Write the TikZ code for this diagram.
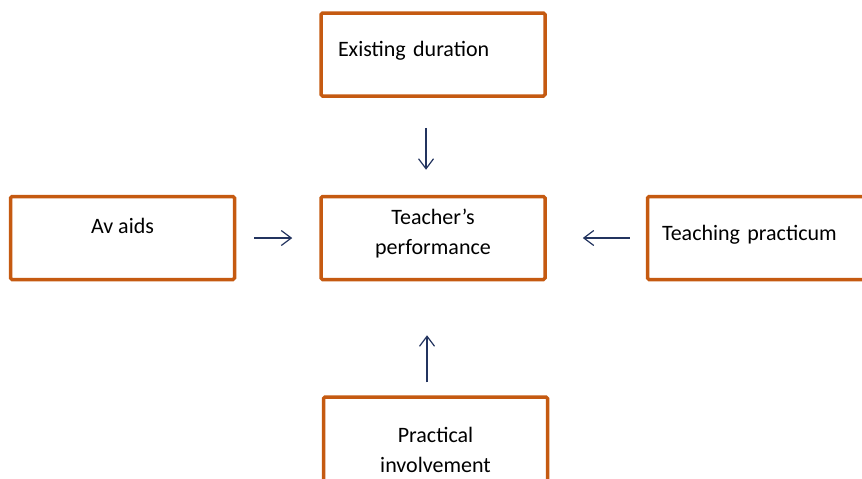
\documentclass[tikz,border=0pt]{standalone}
\usepackage{fontspec}
\setmainfont{Carlito}
\usetikzlibrary{arrows.meta, positioning}
\definecolor{boxorange}{RGB}{197, 90, 17}
\definecolor{arrownavy}{RGB}{35, 52, 95}

\begin{document}
\begin{tikzpicture}[
  x=1pt, y=-1pt,
  factor/.style={rectangle, draw=boxorange, line width=3.5pt, rounded corners=1.5pt,
               minimum width=224pt, minimum height=83pt, fill=white,
               font=\fontsize{22}{30}\selectfont},
  oneline/.style={text height=16pt, text depth=#1},
  arr/.style={-{Straight Barb[length=10pt, width=15pt]}, line width=1.2pt, color=arrownavy}
]
  \useasboundingbox (0,0) rectangle (862,479);

  \node[factor, align=center, text depth=13.5pt] (perf) at (433,238) {Teacher's\\performance};
  \node[factor, oneline=12pt, text width=190pt, align=left, above=97pt of perf] (dur) {Existing duration};
  \node[factor, oneline=24.5pt, left=83pt of perf] (aids) {Av aids};
  \node[factor, oneline=12pt, text width=195pt, align=left, right=99pt of perf] (tprac) {Teaching practicum};
  \node[factor, align=center, minimum height=106pt, below=114pt of perf, xshift=2.5pt] (pinv) {Practical\\involvement};

  \draw[arr, shorten <=30pt, shorten >=25pt] ([xshift=-7pt]dur.south) -- ([xshift=-7pt]perf.north);
  \draw[arr, shorten <=18pt, shorten >=27pt] (aids.east) -- (perf.west);
  \draw[arr, shorten <=16pt, shorten >=36pt] (tprac.west) -- (perf.east);
  \draw[arr, shorten <=13pt, shorten >=54pt] ([xshift=-8.5pt]pinv.north) -- ([xshift=-6pt]perf.south);
\end{tikzpicture}
\end{document}
